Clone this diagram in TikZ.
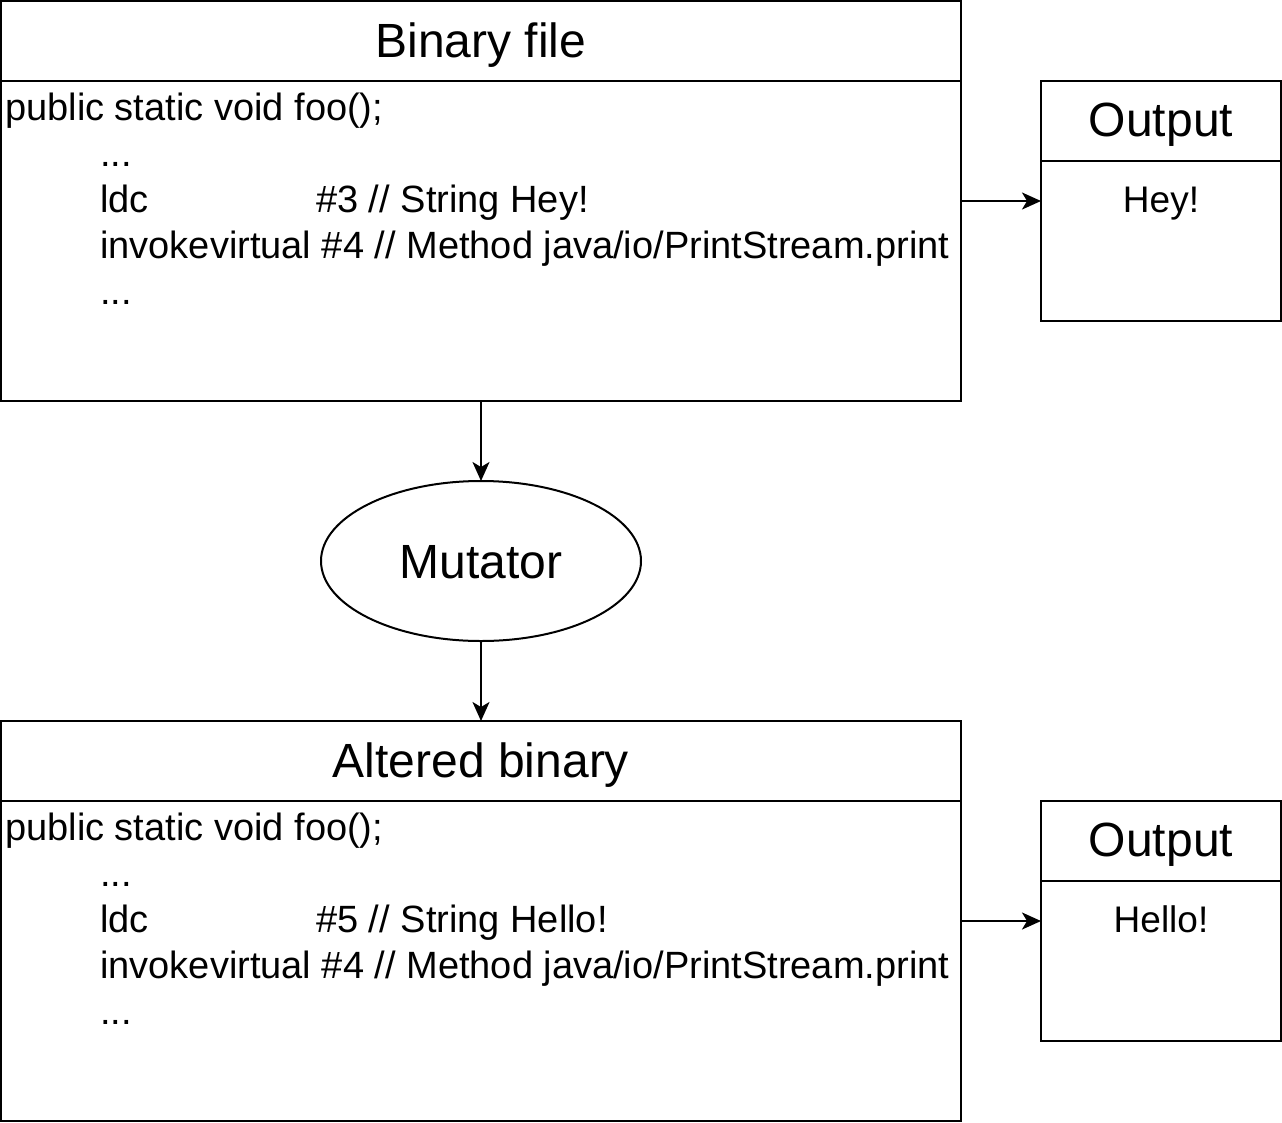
\documentclass[tikz,border=0pt]{standalone}
\usepackage{fontspec}
\setmainfont{Liberation Sans}
\usetikzlibrary{arrows.meta,shapes.geometric}
\begin{document}
\begin{tikzpicture}[x=1pt,y=-1pt,
  frame/.style={draw,line width=2.2pt,inner sep=0pt,outer sep=0pt,anchor=north west},
  divider/.style={line width=2.2pt},
  title/.style={font=\fontsize{48}{57}\selectfont,anchor=base,inner sep=0pt},
  code/.style={font=\fontsize{38}{46}\selectfont,anchor=base west,inner sep=0pt},
  outtext/.style={font=\fontsize{37}{44}\selectfont,anchor=base,inner sep=0pt},
  conn/.style={line width=2.2pt,-{Stealth[length=19pt,width=17pt,inset=5pt]}}]
\useasboundingbox (0,0) rectangle (1282,1122);

% Binary file
\node[frame,minimum width=960pt,minimum height=400pt] (bin) at (1,1) {};
\draw[divider] ([yshift=-80pt]bin.north west) -- ([yshift=-80pt]bin.north east);
\node[title] (bint) at (481,57) {Binary file};
\node[code] (b1) at (5,120) {public static void foo();};
\node[code] (b2) at (100,166) {...};
\node[code] (b3) at (100,212) {\makebox[216pt][l]{ldc}\#3 // String Hey!};
\node[code] (b4) at (100,258) {invokevirtual \#4 // Method java/io/PrintStream.print};
\node[code] (b5) at (100,304) {...};

% Output 1
\node[frame,minimum width=240pt,minimum height=240pt] (out1) at (1041,81) {};
\draw[divider] ([yshift=-80pt]out1.north west) -- ([yshift=-80pt]out1.north east);
\node[title] (out1t) at (1161,136) {Output};
\node[outtext] (out1v) at (1161,212) {Hey!};

% Mutator
\node[draw,ellipse,line width=2pt,minimum width=320pt,minimum height=160pt,inner sep=0pt,outer sep=0pt] (mut) at (481,561) {};
\node[title] (mutt) at (481,578) {Mutator};

% Altered binary
\node[frame,minimum width=960pt,minimum height=400pt] (alt) at (1,721) {};
\draw[divider] ([yshift=-80pt]alt.north west) -- ([yshift=-80pt]alt.north east);
\node[title] (altt) at (481,777) {Altered binary};
\node[code] (a1) at (5,840) {public static void foo();};
\node[code] (a2) at (100,886) {...};
\node[code] (a3) at (100,932) {\makebox[216pt][l]{ldc}\#5 // String Hello!};
\node[code] (a4) at (100,978) {invokevirtual \#4 // Method java/io/PrintStream.print};
\node[code] (a5) at (100,1024) {...};

% Output 2
\node[frame,minimum width=240pt,minimum height=240pt] (out2) at (1041,801) {};
\draw[divider] ([yshift=-80pt]out2.north west) -- ([yshift=-80pt]out2.north east);
\node[title] (out2t) at (1161,856) {Output};
\node[outtext] (out2v) at (1161,932) {Hello!};

% connectors
\draw[conn] (bin.east) -- (out1.west);
\draw[conn] (bin.south) -- (mut.north);
\draw[conn] (mut.south) -- (alt.north);
\draw[conn] (alt.east) -- (out2.west);
\end{tikzpicture}
\end{document}
